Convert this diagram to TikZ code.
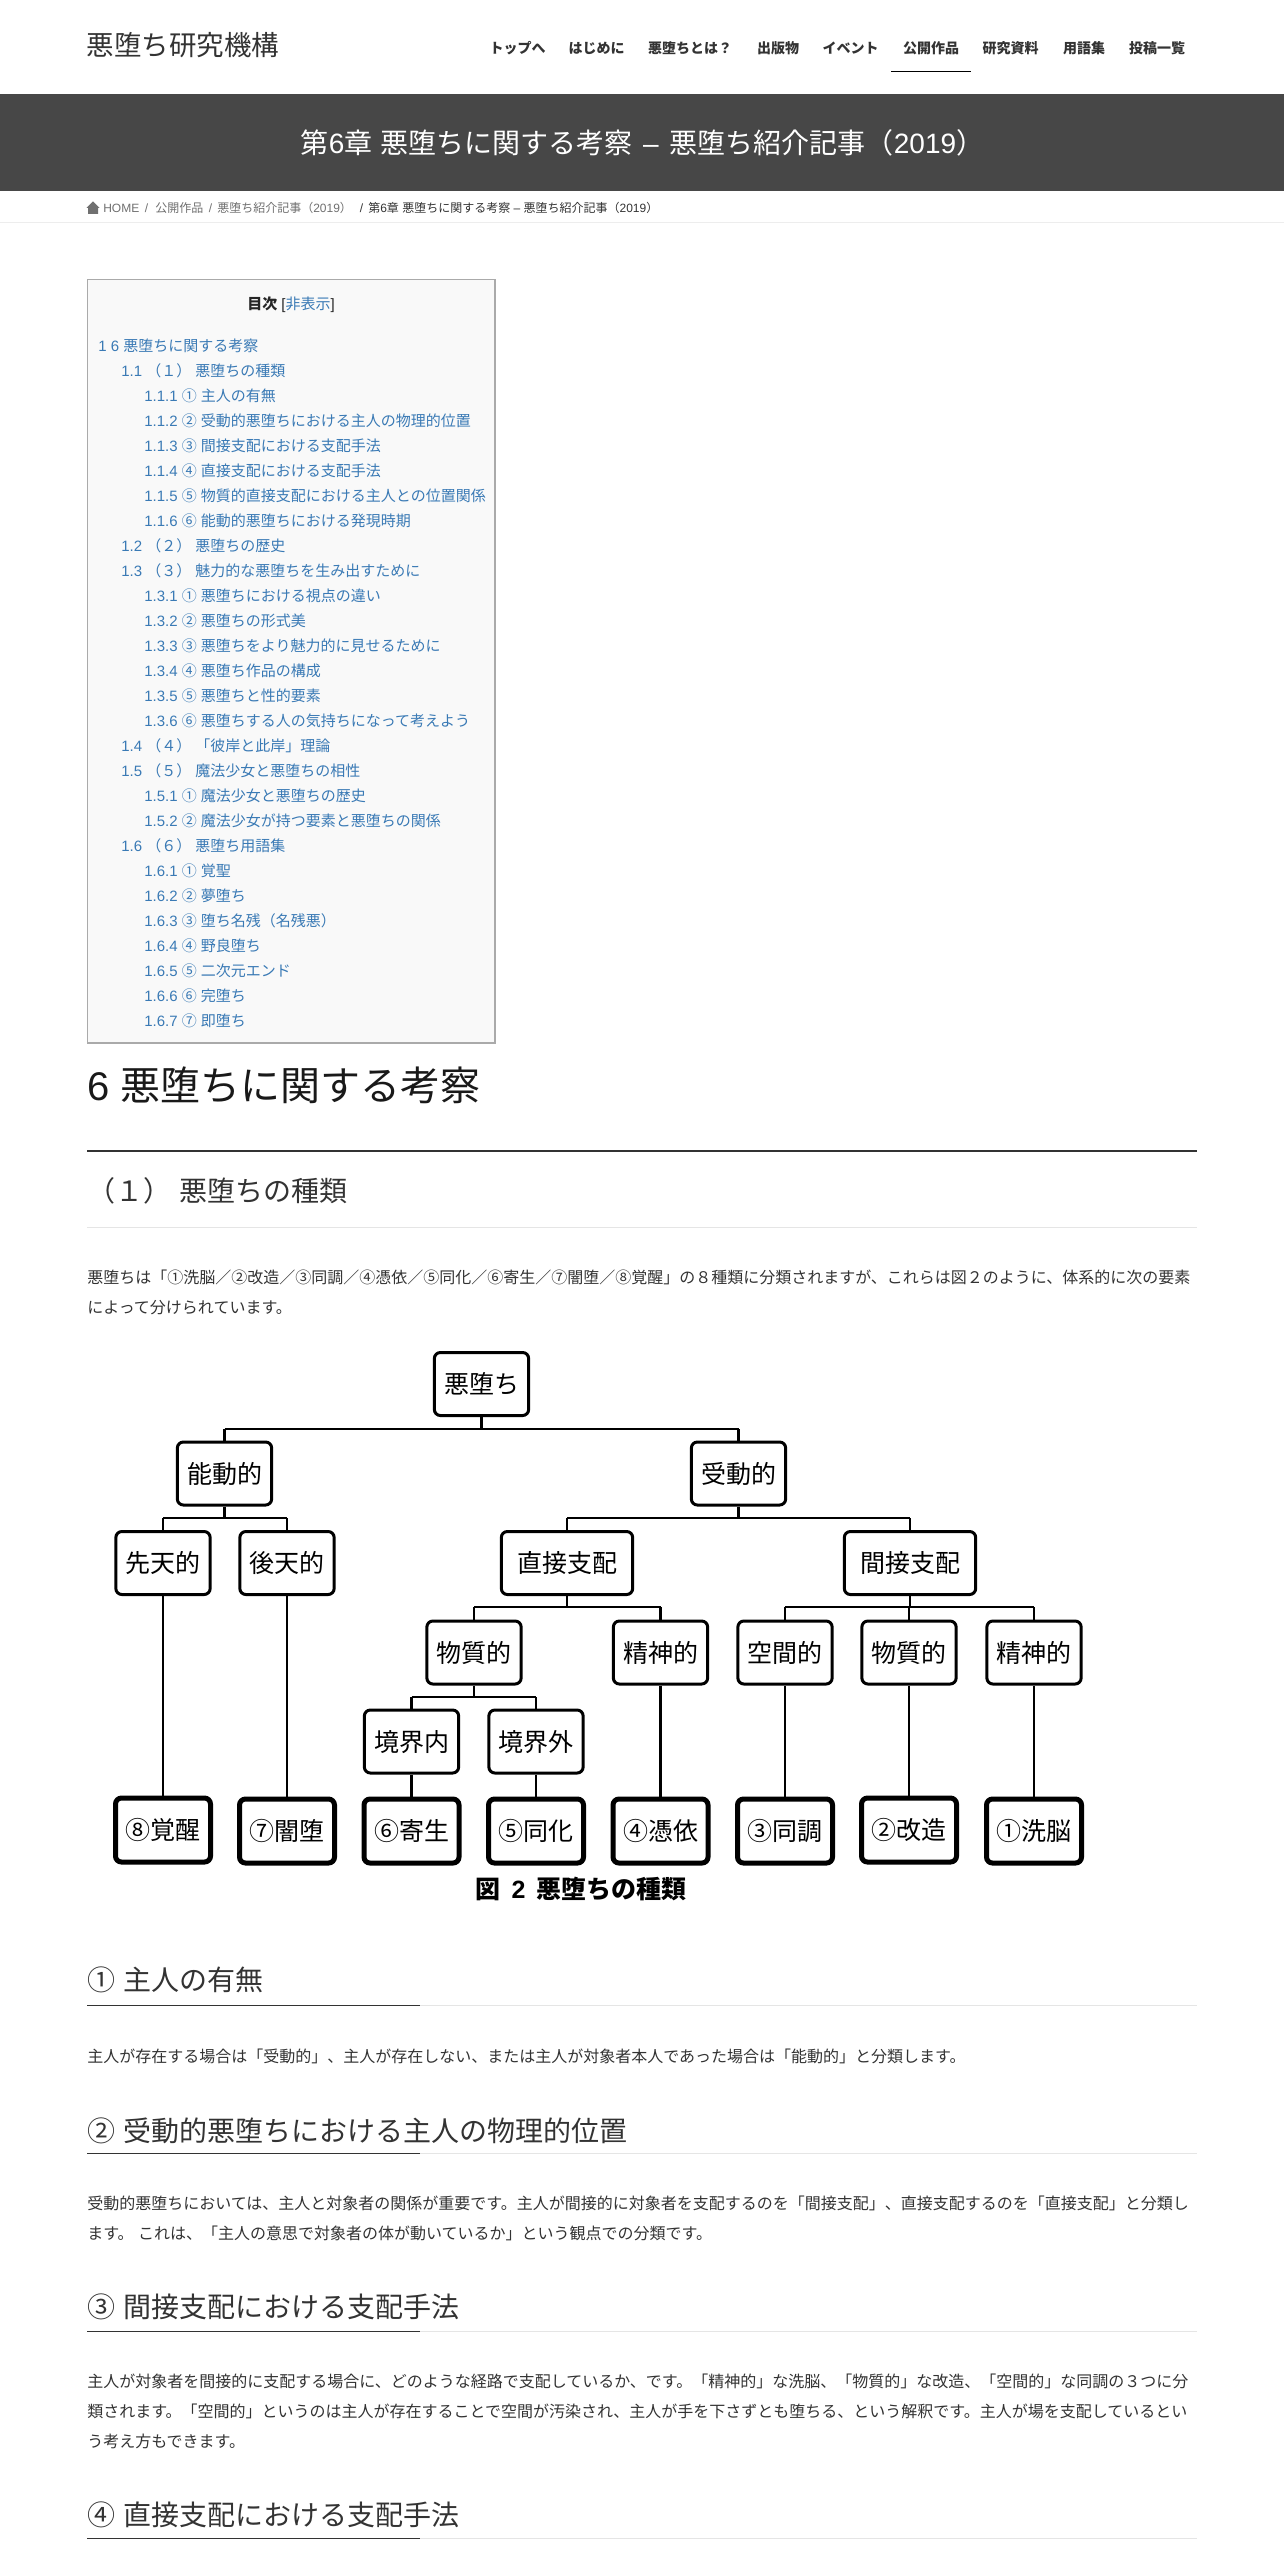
\documentclass[tikz,border=0pt]{standalone}
\usepackage{fontspec}
\setmainfont{Liberation Sans}
\newfontfamily\latinf{Liberation Sans}
\newfontfamily\cjk{Noto Sans CJK JP}
% automatic font switch between Latin and CJK characters
\XeTeXinterchartokenstate=1
\newcount\cjkc
\def\cjkrange#1#2{\cjkc=#1\relax\loop\XeTeXcharclass\cjkc=7 \ifnum\cjkc<#2\relax\advance\cjkc by 1\repeat}
\cjkrange{"2460}{"24FF}
\cjkrange{"3000}{"30FF}
\cjkrange{"4E00}{"9FFF}
\cjkrange{"FF00}{"FFEF}
\XeTeXinterchartoks 0 7 = {\cjk}
\XeTeXinterchartoks 7 0 = {\latinf}
\XeTeXinterchartoks 4095 7 = {\cjk}
\XeTeXinterchartoks 7 4095 = {\latinf}
% size given in reference pixels (1px = 0.75pt)
\newcommand{\sz}[1]{\fontsize{\fpeval{#1*0.75}pt}{\fpeval{#1*0.9}pt}\selectfont\rule[-.12em]{0pt}{1em}}
\definecolor{ink}{HTML}{333333}
\definecolor{band}{HTML}{474747}
\definecolor{tocblue}{HTML}{3A7AB5}
\definecolor{tocbg}{HTML}{F9F9F9}
\definecolor{tocline}{HTML}{AAAAAA}
\definecolor{lightrule}{HTML}{E5E5E5}
\definecolor{crumb}{HTML}{707070}
\tikzset{
  txt/.style={inner sep=0pt,anchor=west,text=ink},
  ctxt/.style={inner sep=0pt,anchor=center,text=ink},
  navitem/.style={ctxt,font=\bfseries},
  tocitem/.style={inner sep=0pt,anchor=west,text=tocblue},
  box/.style={draw=black,fill=white,line width=2.25pt,rounded corners=4.5pt,inner sep=0pt,
     minimum width=70.7pt,minimum height=47.25pt,text=black},
  widebox/.style={box,minimum width=98.5pt},
  endbox/.style={draw=black,fill=white,line width=3.75pt,rounded corners=4.5pt,inner sep=0pt,
     minimum width=71.25pt,minimum height=48pt,text=black},
  bar/.style={line width=1.9pt,draw=black},
  stem/.style={line width=1.9pt,draw=black},
  softrule/.style={line width=.75pt,draw=lightrule},
  hardrule/.style={line width=.75pt,draw=ink},
}
\newcommand{\forkrow}[3]{% parent, y of bar, list of children
  \draw[stem] (#1.south) -- (#1.south |- 0,#2);
  \foreach \c in {#3}{\draw[stem] (\c.north |- 0,#2) -- (\c.north);}
}
\begin{document}
\begin{tikzpicture}[x=0.75pt,y=-0.75pt]
\useasboundingbox (0,0) rectangle (1284,2568);
\fill[white] (0,0) rectangle (1284,2568);

% header
\node[txt] (logo) at (86.5,45) {\sz{27.5}悪堕ち研究機構};
\node[navitem] (nav1) at (517.5,48) {\sz{14}トップへ};
\node[navitem] (nav2) at (596.5,48) {\sz{14}はじめに};
\node[navitem] (nav3) at (690,48) {\sz{14}悪堕ちとは？};
\node[navitem] (nav4) at (778,48) {\sz{14}出版物};
\node[navitem] (nav5) at (850.5,48) {\sz{14}イベント};
\node[navitem] (nav6) at (931,48) {\sz{14}公開作品};
\node[navitem] (nav7) at (1010.5,48) {\sz{14}研究資料};
\node[navitem] (nav8) at (1084,48) {\sz{14}用語集};
\node[navitem] (nav9) at (1157,48) {\sz{14}投稿一覧};
\draw[line width=.75pt,black] (891,71.5) -- (971,71.5);

% title band
\fill[band] (0,94) rectangle (1284,191);
\node[txt,text=white] (title) at (300.5,143) {\sz{28}第6章 悪堕ちに関する考察\hspace{2.5pt} – \hspace{2.5pt}悪堕ち紹介記事（2019）};

% breadcrumb
\fill[crumb] (86.5,208) -- (93,201.5) -- (99.5,208) -- (98,208) -- (98,214) -- (88,214) -- (88,208) -- cycle;
\node[txt,text=crumb] (bc1) at (103,208) {\sz{12}HOME};
\node[txt,text=crumb] (bcs1) at (144.5,208) {\sz{12}/};
\node[txt,text=crumb] (bc2) at (155,208) {\sz{12}公開作品};
\node[txt,text=crumb] (bcs2) at (208.5,208) {\sz{12}/};
\node[txt,text=crumb] (bc3) at (217,208) {\sz{12}悪堕ち紹介記事（2019）};
\node[txt] (bcs3) at (359.5,208) {\sz{12}/};
\node[txt] (bc4) at (368,208) {\sz{12}第6章 悪堕ちに関する考察 – 悪堕ち紹介記事（2019）};
\draw[line width=.75pt,draw=lightrule!70] (0,222.5) -- (1284,222.5);

% table of contents
\filldraw[fill=tocbg,draw=tocline,line width=.9pt] (87.5,279.5) rectangle (495,1043);
\node[ctxt] (toctitle) at (291,304) {\sz{15}\textbf{\textcolor{black!85}{目次}} \textcolor{black!85}{[}\textcolor{tocblue}{非表示}\textcolor{black!85}{]}};
\foreach \lx/\t [count=\i from 0] in {
 98/{1 6 悪堕ちに関する考察},
 121/{1.1 （１） 悪堕ちの種類},
 144/{1.1.1 ① 主人の有無},
 144/{1.1.2 ② 受動的悪堕ちにおける主人の物理的位置},
 144/{1.1.3 ③ 間接支配における支配手法},
 144/{1.1.4 ④ 直接支配における支配手法},
 144/{1.1.5 ⑤ 物質的直接支配における主人との位置関係},
 144/{1.1.6 ⑥ 能動的悪堕ちにおける発現時期},
 121/{1.2 （２） 悪堕ちの歴史},
 121/{1.3 （３） 魅力的な悪堕ちを生み出すために},
 144/{1.3.1 ① 悪堕ちにおける視点の違い},
 144/{1.3.2 ② 悪堕ちの形式美},
 144/{1.3.3 ③ 悪堕ちをより魅力的に見せるために},
 144/{1.3.4 ④ 悪堕ち作品の構成},
 144/{1.3.5 ⑤ 悪堕ちと性的要素},
 144/{1.3.6 ⑥ 悪堕ちする人の気持ちになって考えよう},
 121/{1.4 （４） 「彼岸と此岸」理論},
 121/{1.5 （５） 魔法少女と悪堕ちの相性},
 144/{1.5.1 ① 魔法少女と悪堕ちの歴史},
 144/{1.5.2 ② 魔法少女が持つ要素と悪堕ちの関係},
 121/{1.6 （６） 悪堕ち用語集},
 144/{1.6.1 ① 覚聖},
 144/{1.6.2 ② 夢堕ち},
 144/{1.6.3 ③ 堕ち名残（名残悪）},
 144/{1.6.4 ④ 野良堕ち},
 144/{1.6.5 ⑤ 二次元エンド},
 144/{1.6.6 ⑥ 完堕ち},
 144/{1.6.7 ⑦ 即堕ち}}
{\node[tocitem] (toc\i) at (\lx,{346+25*\i}) {\sz{15}\t};}

% headings
\node[txt,text=black!90] (h1) at (87,1085) {\sz{40}6 悪堕ちに関する考察};
\draw[line width=1.5pt,draw=ink] (87,1151) -- (1197,1151);
\node[txt] (h2) at (87,1191) {\sz{28}（１） 悪堕ちの種類};
\draw[softrule] (87,1227) -- (1197,1227);
\node[txt] (p1a) at (87,1277) {\sz{16}悪堕ちは「①洗脳／②改造／③同調／④憑依／⑤同化／⑥寄生／⑦闇堕／⑧覚醒」の８種類に分類されますが、これらは図２のように、体系的に次の要素};
\node[txt] (p1b) at (87,1307) {\sz{16}によって分けられています。};

% diagram
\node[box] (root) at (481.5,1384) {\sz{25}悪堕ち};
\node[box] (act) at (224.5,1473.5) {\sz{25}能動的};
\node[box] (pas) at (738.5,1473.5) {\sz{25}受動的};
\node[box] (sen) at (163,1563) {\sz{25}先天的};
\node[box] (kou) at (287,1563) {\sz{25}後天的};
\node[widebox] (dir) at (567,1563) {\sz{25}直接支配};
\node[widebox] (ind) at (910,1563) {\sz{25}間接支配};
\node[box] (dmat) at (474,1652.5) {\sz{25}物質的};
\node[box] (dmen) at (660.5,1652.5) {\sz{25}精神的};
\node[box] (ispa) at (785,1652.5) {\sz{25}空間的};
\node[box] (imat) at (909,1652.5) {\sz{25}物質的};
\node[box] (imen) at (1034,1652.5) {\sz{25}精神的};
\node[box] (bin) at (411.5,1741.5) {\sz{25}境界内};
\node[box] (bout) at (536,1741.5) {\sz{25}境界外};
\node[endbox] (e8) at (163,1830) {\sz{25}⑧覚醒};
\node[endbox] (e7) at (287,1831) {\sz{25}⑦闇堕};
\node[endbox] (e6) at (411.5,1831) {\sz{25}⑥寄生};
\node[endbox] (e5) at (536,1831) {\sz{25}⑤同化};
\node[endbox] (e4) at (660.5,1831) {\sz{25}④憑依};
\node[endbox] (e3) at (785,1831) {\sz{25}③同調};
\node[endbox] (e2) at (909,1830) {\sz{25}②改造};
\node[endbox] (e1) at (1034,1831) {\sz{25}①洗脳};
\forkrow{root}{1429}{act,pas}
\draw[bar] (act.north |- 0,1429) -- (pas.north |- 0,1429);
\forkrow{act}{1518}{sen,kou}
\draw[bar] (sen.north |- 0,1518) -- (kou.north |- 0,1518);
\forkrow{pas}{1518}{dir,ind}
\draw[bar] (dir.north |- 0,1518) -- (ind.north |- 0,1518);
\forkrow{dir}{1607}{dmat,dmen}
\draw[bar] (dmat.north |- 0,1607) -- (dmen.north |- 0,1607);
\forkrow{ind}{1607}{ispa,imat,imen}
\draw[bar] (ispa.north |- 0,1607) -- (imen.north |- 0,1607);
\forkrow{dmat}{1697}{bin,bout}
\draw[bar] (bin.north |- 0,1697) -- (bout.north |- 0,1697);
\draw[stem] (sen.south) -- (e8.north);
\draw[stem] (kou.south) -- (e7.north);
\draw[stem] (bin.south) -- (e6.north);
\draw[stem] (bout.south) -- (e5.north);
\draw[stem] (dmen.south) -- (e4.north);
\draw[stem] (ispa.south) -- (e3.north);
\draw[stem] (imat.south) -- (e2.north);
\draw[stem] (imen.south) -- (e1.north);
\node[ctxt,text=black,font=\bfseries] (cap) at (581,1889) {\sz{25}図\hspace{8.5pt}2\hspace{8.5pt}悪堕ちの種類};

% section 1
\node[txt] (s1) at (87,1980) {\sz{28}① 主人の有無};
\draw[softrule] (87,2005.5) -- (1197,2005.5);
\draw[hardrule] (87,2005.5) -- (420,2005.5);
\node[txt] (s1p) at (87,2056) {\sz{16}主人が存在する場合は「受動的」、主人が存在しない、または主人が対象者本人であった場合は「能動的」と分類します。};

% section 2
\node[txt] (s2) at (87,2131) {\sz{28}② 受動的悪堕ちにおける主人の物理的位置};
\draw[softrule] (87,2153.5) -- (1197,2153.5);
\draw[hardrule] (87,2153.5) -- (420,2153.5);
\node[txt] (s2a) at (87,2203) {\sz{16}受動的悪堕ちにおいては、主人と対象者の関係が重要です。主人が間接的に対象者を支配するのを「間接支配」、直接支配するのを「直接支配」と分類し};
\node[txt] (s2b) at (87,2233) {\sz{16}ます。 これは、「主人の意思で対象者の体が動いているか」という観点での分類です。};

% section 3
\node[txt] (s3) at (87,2307) {\sz{28}③ 間接支配における支配手法};
\draw[softrule] (87,2331.5) -- (1197,2331.5);
\draw[hardrule] (87,2331.5) -- (420,2331.5);
\node[txt] (s3a) at (87,2381) {\sz{16}主人が対象者を間接的に支配する場合に、どのような経路で支配しているか、です。「精神的」な洗脳、「物質的」な改造、「空間的」な同調の３つに分};
\node[txt] (s3b) at (87,2411) {\sz{16}類されます。「空間的」というのは主人が存在することで空間が汚染され、主人が手を下さずとも堕ちる、という解釈です。主人が場を支配しているとい};
\node[txt] (s3c) at (87,2441) {\sz{16}う考え方もできます。};

% section 4
\node[txt] (s4) at (87,2515) {\sz{28}④ 直接支配における支配手法};
\draw[softrule] (87,2538.5) -- (1197,2538.5);
\draw[hardrule] (87,2538.5) -- (420,2538.5);
\end{tikzpicture}
\end{document}
